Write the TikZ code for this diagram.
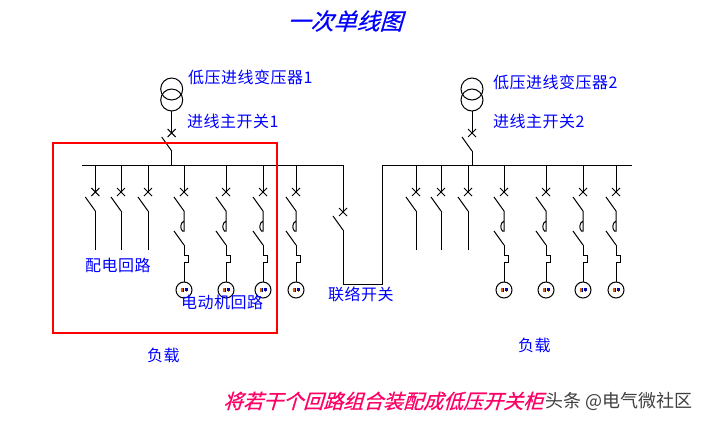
\documentclass[tikz,border=0pt]{standalone}
\usepackage{fontspec}
\newfontfamily\cjk{Noto Sans CJK SC}
\newfontfamily\cjkw[LetterSpace=3]{Noto Sans CJK SC}
\newfontfamily\cjkit[FakeSlant=0.3,FakeBold=0.6]{Noto Sans CJK SC}
\definecolor{lblblue}{RGB}{0,0,255}
\definecolor{pinkred}{RGB}{255,0,102}
\tikzset{
  wire/.style={draw=black,line width=1pt},
  lbl/.style={inner sep=0pt,anchor=west,text=lblblue,font=\cjkw\fontsize{16}{16}\selectfont}
}
\newcommand{\xblade}[3]{% x, ytop of blade, ybottom of blade
  \draw[wire] (#1-10,#2)--(#1,#3);}
\newcommand{\xcross}[2]{%
  \draw[wire] (#1-4,#2-4)--(#1+4,#2+4) (#1-4,#2+4)--(#1+4,#2-4);}
\newcommand{\plainfeeder}[1]{%
  \draw[wire] (#1,165)--(#1,192);
  \xcross{#1}{192}
  \xblade{#1}{197}{211}
  \draw[wire] (#1,211)--(#1,250);}
\newcommand{\motorfeeder}[1]{%
  \draw[wire] (#1,165)--(#1,192);
  \xcross{#1}{192}
  \xblade{#1}{197}{211}
  \draw[wire] (#1,211)--(#1,231)--(#1-1.5,231) .. controls (#1-4,229) and (#1-4,223) .. (#1,221);
  \xblade{#1}{231}{245}
  \draw[wire] (#1,245)--(#1,255)--(#1+4,255)--(#1+4,262)--(#1,262)--(#1,282);
  \draw[wire] (#1,290) circle (8);
  \fill[orange!80!black] (#1-3.5,288) rectangle (#1-1.5,292);
  \fill[blue!60!black] (#1-1.5,288) rectangle (#1-0.7,292);
  \fill[blue!70!black] (#1+0.7,288) rectangle (#1+3.5,291);
  \fill[orange!80!black] (#1+1.5,291) rectangle (#1+2.5,292);}
\newcommand{\xformer}[1]{%
  \draw[wire] (#1,89) circle (11);
  \draw[wire] (#1,100) circle (11);
  \draw[wire] (#1,111)--(#1,133);
  \xcross{#1}{133}
  \xblade{#1}{137}{151}
  \draw[wire] (#1,151)--(#1,165);}
\begin{document}
\begin{tikzpicture}[x=1pt,y=-1pt]
\useasboundingbox[fill=white] (0,0) rectangle (704,423);
% buses and tie
\draw[wire] (82,165)--(343,165)--(343,212);
\xcross{343}{212}
\xblade{343}{216}{230}
\draw[wire] (343,230)--(343,284)--(382,284)--(382,165)--(632,165);
\xformer{171.7}
\xformer{472}
\plainfeeder{95.3}\plainfeeder{121}\plainfeeder{148}
\motorfeeder{184}\motorfeeder{226}\motorfeeder{263}\motorfeeder{296}
\plainfeeder{416}\plainfeeder{441}\plainfeeder{468}
\motorfeeder{504}\motorfeeder{546}\motorfeeder{583}\motorfeeder{616}
% red frame
\draw[red,line width=2pt] (53,143) rectangle (277,333);
% labels
\node[inner sep=0pt,text=lblblue,font=\cjkit\fontsize{23}{23}\selectfont] (title) at (345,21) {一次单线图};
\node[lbl] (t1) at (188,77) {低压进线变压器1};
\node[lbl] (s1) at (187,121) {进线主开关1};
\node[lbl] (t2) at (493,82) {低压进线变压器2};
\node[lbl] (s2) at (493,121) {进线主开关2};
\node[lbl] (d) at (85,265) {配电回路};
\node[lbl] (m) at (181,302) {电动机回路};
\node[lbl] (l) at (328,294) {联络开关};
\node[lbl] (f1) at (147,355) {负载};
\node[lbl] (f2) at (518,345) {负载};
\node[inner sep=0pt,anchor=west,text=pinkred,font=\cjkit\fontsize{20}{20}\selectfont] (cap) at (223,401) {将若干个回路组合装配成低压开关柜};
\node[inner sep=0pt,anchor=west,text=black!75,font=\cjk\fontsize{18}{18}\selectfont] (wm) at (545,401) {头条 @电气微社区};
\end{tikzpicture}
\end{document}
